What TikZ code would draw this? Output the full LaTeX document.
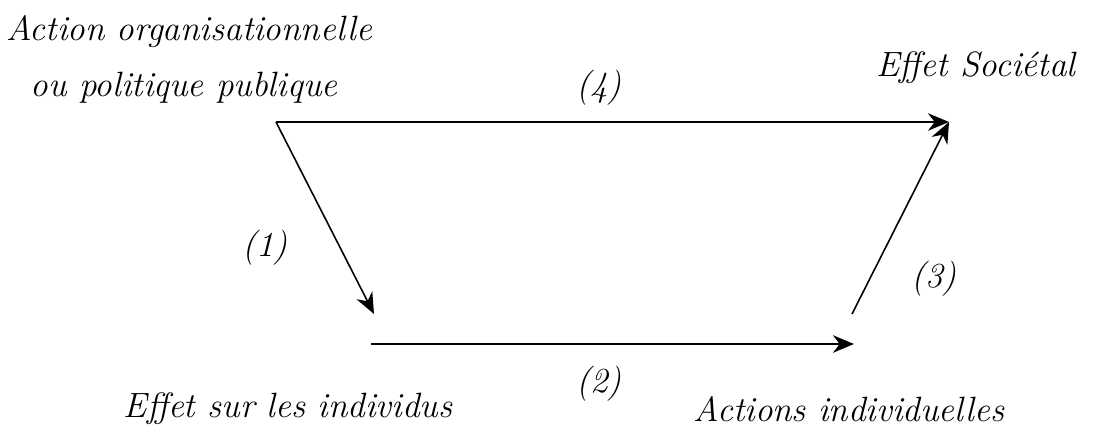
\documentclass[tikz,border=0pt]{standalone}
\usepackage{amsmath}
\usepackage{tikz}
\usetikzlibrary{arrows.meta}

\tikzset{
    lbl/.style={font=\fontsize{20}{24}\selectfont\itshape, inner sep=0pt},
    flow/.style={-{Stealth[length=12pt, width=10pt]}, line width=0.9pt}
}

\begin{document}
\begin{tikzpicture}[x=0.02cm, y=-0.02cm]
    \useasboundingbox (0, 0) rectangle (1098, 437);

    % end points of the arrows
    \coordinate (org) at (276, 122);
    \coordinate (soc) at (949, 122);
    \coordinate (indA) at (374, 314);
    \coordinate (indB) at (371, 344);
    \coordinate (actA) at (854, 344);
    \coordinate (actB) at (852, 314);

    % texts
    \node[lbl] (title1) at (189, 32) {Action organisationnelle};
    \node[lbl] (title2) at (184, 88) {ou politique publique};
    \node[lbl] (societal) at (976, 68) {Effet Soci\'etal};
    \node[lbl] (individus) at (288, 409) {Effet sur les individus};
    \node[lbl] (actions) at (849, 409) {Actions individuelles};
    \node[lbl] (n1) at (265, 248) {(1)};
    \node[lbl] (n2) at (599, 384) {(2)};
    \node[lbl] (n3) at (934, 279) {(3)};
    \node[lbl] (n4) at (599, 88) {(4)};

    % arrows
    \draw[flow] (org) -- (soc);
    \draw[flow] (org) -- (indA);
    \draw[flow] (indB) -- (actA);
    \draw[flow] (actB) -- (soc);
\end{tikzpicture}
\end{document}
